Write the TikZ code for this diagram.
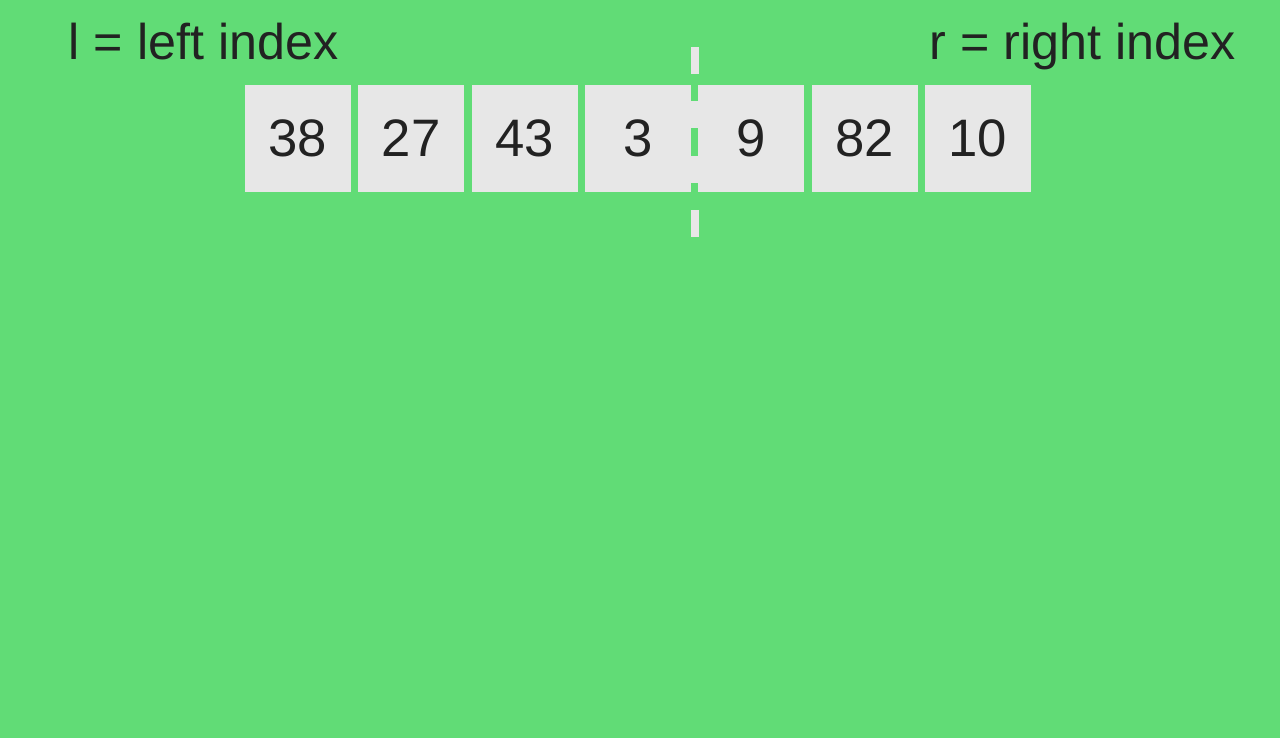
\documentclass[tikz,border=0pt]{standalone}
\usepackage{fontspec}
\setmainfont{Liberation Sans}
\usetikzlibrary{positioning}
\definecolor{bg}{HTML}{61DC76}
\definecolor{cellfill}{HTML}{E7E7E7}
\definecolor{ink}{HTML}{222222}
\tikzset{
  cell/.style={fill=cellfill, minimum width=1.06cm, minimum height=1.07cm, inner sep=0pt, text=ink,
               font=\fontsize{15}{18}\selectfont},
  tag/.style={text=ink, inner sep=0pt, font=\fontsize{14.3}{17}\selectfont},
  split/.style={draw=cellfill, line width=0.08cm, dash pattern=on 0.2714cm off 0.2714cm},
}
\begin{document}
\begin{tikzpicture}
\fill[bg] (0,0) rectangle (12.8,-7.38);
\useasboundingbox (0,0) rectangle (12.8,-7.38);
% index labels
\node[tag, anchor=base west] (lidx) at (0.68,-0.59) {l = left index};
\node[tag, anchor=base east] (ridx) at (12.36,-0.59) {r = right index};
% array cells
\foreach \v [count=\i] in {38,27,43,3,9,82,10}
  \node[cell] (c\i) at ({2.98+(\i-1)*1.133},-1.385) {\v};
% split line
\coordinate (stop) at (6.95,-0.47);
\coordinate (sbot) at (6.95,-2.37);
\draw[split] (stop) -- (sbot);
\end{tikzpicture}
\end{document}
